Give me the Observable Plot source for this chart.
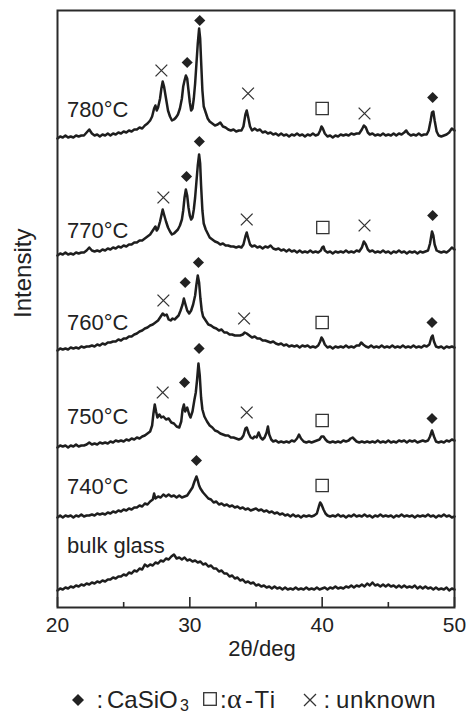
<!DOCTYPE html>
<html>
<head>
<meta charset="utf-8">
<script src="https://cdn.jsdelivr.net/npm/d3@7"></script>
<script src="https://cdn.jsdelivr.net/npm/@observablehq/plot@0.6"></script>
<style>
  html, body { margin: 0; padding: 0; background: #fff; }
  #chart svg { display: block; }
  #legend { position: relative; width: 467px; height: 48px; font-family: "Liberation Sans", Arial, sans-serif; color: #222; }
  #legend .t { position: absolute; font-size: 24px; line-height: 24px; white-space: nowrap; }
  #legend svg { position: absolute; }
</style>
</head>
<body>
<div id="chart"></div>
<div id="legend">
  <svg style="left:71.5px;top:26px" width="12" height="12"><path d="M6,0L12,6L6,12L0,6Z" fill="#222"/></svg>
  <span class="t" style="left:96.5px;top:20px">:</span>
  <span class="t" style="left:107px;top:20px">CaSiO</span>
  <span class="t" style="left:180px;top:30px;font-size:16px;line-height:16px">3</span>
  <svg style="left:203px;top:24px" width="14" height="14"><rect x="0.7" y="0.7" width="12.6" height="12.6" fill="none" stroke="#333" stroke-width="1.3"/></svg>
  <span class="t" style="left:220px;top:20px">:</span>
  <span class="t" style="left:227px;top:17px;font-family:'Liberation Serif','Times New Roman',serif;font-size:28px;line-height:28px">α</span>
  <span class="t" style="left:245px;top:20px;letter-spacing:1.5px">-Ti</span>
  <svg style="left:303px;top:25px" width="14" height="14"><path d="M1,1L13,13M1,13L13,1" stroke="#333" stroke-width="1.3"/></svg>
  <span class="t" style="left:323.5px;top:20px">:</span>
  <span class="t" style="left:336px;top:20px;letter-spacing:0.6px">unknown</span>
</div>
<script>
// ---- data (2θ in degrees, intensity in arbitrary units above each trace's baseline) ----
const traceNames = ["bulk glass", "740°C", "750°C", "760°C", "770°C", "780°C"];
const traceOffsets = [17, 90, 160, 257, 352, 469];
const labelLift = [38, 24, 24, 21, 18, 22];

const bulkGlass = [[20,0],[20.2,2],[20.4,1],[20.6,3],[20.8,2],[21,4],[21.2,3],[21.4,5],[21.6,4],[21.8,6],[22,5],[22.2,7],[22.4,6],[22.6,8],[22.8,7],[23,9],[23.2,8],[23.4,10],[23.6,9],[23.8,11],[24,11],[24.2,13],[24.4,12],[24.6,14],[24.8,14],[25,16],[25.2,15],[25.4,18],[25.6,17],[25.8,20],[26,19],[26.2,22],[26.4,21],[26.6,26],[26.8,24],[27,26],[27.2,25],[27.4,28],[27.6,27],[27.8,30],[28,29],[28.2,32],[28.4,31],[28.6,34],[28.8,36],[29,32],[29.2,33],[29.4,31],[29.6,33],[29.8,30],[30,31],[30.2,29],[30.4,30],[30.6,28],[30.8,29],[31,26],[31.2,27],[31.4,24],[31.6,25],[31.8,22],[32,22],[32.2,19],[32.4,20],[32.6,17],[32.8,17],[33,14],[33.2,15],[33.4,12],[33.6,13],[33.8,10],[34,11],[34.2,8],[34.4,9],[34.6,7],[34.8,8],[35,5],[35.2,6],[35.4,4],[35.6,5],[35.8,3],[36,4],[36.2,2],[36.4,4],[36.6,2],[36.8,3],[37,1],[37.2,3],[37.4,1],[37.6,2],[37.8,1],[38,3],[38.2,1],[38.4,2],[38.6,1],[38.8,3],[39,1],[39.2,2],[39.4,1],[39.6,3],[39.8,1],[40,2],[40.2,3],[40.4,1],[40.6,3],[40.8,2],[41,4],[41.2,2],[41.4,3],[41.6,2],[41.8,4],[42,3],[42.2,5],[42.4,3],[42.6,5],[42.8,4],[43,6],[43.2,4],[43.4,7],[43.6,5],[43.8,8],[44,5],[44.2,6],[44.4,4],[44.6,6],[44.8,4],[45,6],[45.2,4],[45.4,5],[45.6,3],[45.8,5],[46,3],[46.2,5],[46.4,3],[46.6,4],[46.8,3],[47,5],[47.2,2],[47.4,4],[47.6,2],[47.8,4],[48,2],[48.2,3],[48.4,1],[48.6,3],[48.8,1],[49,2],[49.2,1],[49.4,3],[49.6,0],[49.8,2],[50,1]];

const t740 = [[20,0],[20.2,2],[20.4,0],[20.6,2],[20.8,1],[21,2],[21.2,0],[21.4,2],[21.6,1],[21.8,3],[22,1],[22.2,2],[22.4,2],[22.6,3],[22.8,2],[23,4],[23.2,3],[23.4,4],[23.6,3],[23.8,5],[24,4],[24.2,6],[24.4,5],[24.6,7],[24.8,6],[25,8],[25.2,7],[25.4,9],[25.6,8],[25.8,10],[26,10],[26.2,12],[26.4,11],[26.6,14],[26.8,13],[27,16],[27.2,18],[27.3,24],[27.4,19],[27.6,21],[27.8,20],[28,23],[28.2,21],[28.4,23],[28.6,21],[28.8,22],[29,20],[29.2,22],[29.4,20],[29.6,21],[29.8,22],[30,26],[30.2,30],[30.35,36],[30.5,41],[30.6,37],[30.7,32],[30.8,29],[31,25],[31.2,22],[31.4,19],[31.6,18],[31.8,15],[32,16],[32.2,13],[32.4,14],[32.6,12],[32.8,13],[33,11],[33.2,12],[33.4,10],[33.6,11],[33.8,9],[34,10],[34.2,8],[34.4,9],[34.6,7],[34.8,8],[35,9],[35.2,7],[35.4,8],[35.6,6],[35.8,7],[36,5],[36.2,6],[36.4,4],[36.6,5],[36.8,3],[37,4],[37.2,2],[37.4,3],[37.6,1],[37.8,3],[38,1],[38.2,2],[38.4,0],[38.6,2],[38.8,1],[39,2],[39.2,1],[39.4,2],[39.6,4],[39.75,11],[39.85,15],[39.95,13],[40.1,8],[40.25,4],[40.4,2],[40.6,1],[40.8,2],[41,1],[41.2,3],[41.4,1],[41.6,2],[41.8,0],[42,2],[42.2,1],[42.4,3],[42.6,1],[42.8,2],[43,1],[43.2,3],[43.4,1],[43.6,2],[43.8,0],[44,2],[44.2,1],[44.4,3],[44.6,1],[44.8,2],[45,1],[45.2,2],[45.4,0],[45.6,2],[45.8,1],[46,3],[46.2,1],[46.4,2],[46.6,1],[46.8,2],[47,0],[47.2,2],[47.4,1],[47.6,2],[47.8,1],[48,3],[48.2,1],[48.4,2],[48.6,0],[48.8,2],[49,1],[49.2,3],[49.4,1],[49.6,2],[49.8,0],[50,1]];

const t750 = [[20,0],[20.2,2],[20.4,1],[20.6,2],[20.8,0],[21,2],[21.2,1],[21.4,3],[21.6,1],[21.8,2],[22,2],[22.2,3],[22.4,5],[22.6,3],[22.8,4],[23,3],[23.2,5],[23.4,4],[23.6,5],[23.8,4],[24,6],[24.2,5],[24.4,7],[24.6,6],[24.8,7],[25,6],[25.2,8],[25.4,7],[25.6,9],[25.8,8],[26,10],[26.2,9],[26.4,11],[26.6,12],[26.8,14],[27,16],[27.15,22],[27.25,34],[27.35,43],[27.45,36],[27.55,30],[27.7,33],[27.85,30],[28,31],[28.2,28],[28.4,29],[28.6,25],[28.8,24],[29,21],[29.2,20],[29.35,26],[29.45,38],[29.55,43],[29.65,36],[29.8,40],[29.95,33],[30.05,30],[30.2,36],[30.35,48],[30.45,55],[30.55,68],[30.65,84],[30.75,72],[30.85,50],[30.95,38],[31.1,31],[31.3,26],[31.5,22],[31.7,20],[31.9,17],[32.1,16],[32.3,14],[32.5,13],[32.7,12],[32.9,12],[33.1,10],[33.3,10],[33.5,9],[33.7,8],[33.9,9],[34.05,12],[34.2,19],[34.3,20],[34.45,14],[34.6,10],[34.75,9],[34.9,11],[35.05,10],[35.2,15],[35.35,10],[35.5,8],[35.65,10],[35.8,15],[35.9,21],[36,13],[36.15,8],[36.3,6],[36.5,7],[36.7,5],[36.9,6],[37.1,5],[37.3,6],[37.5,5],[37.7,7],[37.9,6],[38.1,9],[38.25,13],[38.4,9],[38.6,6],[38.8,5],[39,6],[39.2,5],[39.4,6],[39.6,7],[39.8,8],[39.95,11],[40.1,11],[40.25,8],[40.4,6],[40.6,5],[40.8,6],[41,5],[41.2,6],[41.4,5],[41.6,7],[41.8,6],[42,7],[42.15,9],[42.3,10],[42.45,8],[42.6,6],[42.8,5],[43,6],[43.2,5],[43.4,6],[43.6,5],[43.8,6],[44,5],[44.2,7],[44.4,5],[44.6,6],[44.8,5],[45,7],[45.2,5],[45.4,6],[45.6,5],[45.8,7],[46,6],[46.2,7],[46.4,5],[46.6,7],[46.8,6],[47,7],[47.2,5],[47.4,6],[47.6,7],[47.8,6],[48,7],[48.15,11],[48.3,17],[48.45,11],[48.6,6],[48.8,5],[49,6],[49.2,5],[49.4,7],[49.6,6],[49.8,8],[50,7]];

const t760 = [[20,0],[20.2,2],[20.4,1],[20.6,2],[20.8,1],[21,3],[21.2,2],[21.4,3],[21.6,2],[21.8,4],[22,3],[22.2,4],[22.4,4],[22.6,5],[22.8,4],[23,6],[23.2,5],[23.4,7],[23.6,6],[23.8,8],[24,8],[24.2,9],[24.4,9],[24.6,11],[24.8,10],[25,12],[25.2,12],[25.4,14],[25.6,14],[25.8,16],[26,17],[26.2,19],[26.4,20],[26.6,22],[26.8,23],[27,25],[27.2,26],[27.4,28],[27.6,30],[27.8,34],[27.95,37],[28.1,35],[28.25,36],[28.4,31],[28.55,30],[28.7,32],[28.85,31],[29,33],[29.15,35],[29.3,40],[29.45,46],[29.55,52],[29.65,47],[29.8,40],[29.95,37],[30.1,40],[30.25,46],[30.4,55],[30.5,66],[30.6,75],[30.7,68],[30.8,52],[30.9,40],[31,34],[31.2,30],[31.4,26],[31.6,25],[31.8,23],[32,22],[32.2,20],[32.4,21],[32.6,18],[32.8,18],[33,16],[33.2,16],[33.4,15],[33.6,15],[33.8,15],[34,16],[34.15,18],[34.3,17],[34.5,15],[34.7,13],[34.9,14],[35.1,12],[35.3,12],[35.5,10],[35.7,10],[35.9,9],[36.1,8],[36.3,9],[36.5,7],[36.7,6],[36.9,7],[37.1,5],[37.3,6],[37.5,4],[37.7,5],[37.9,4],[38.1,5],[38.3,3],[38.5,5],[38.7,4],[38.9,5],[39.1,3],[39.3,4],[39.5,3],[39.7,5],[39.85,9],[39.95,13],[40.05,11],[40.2,6],[40.4,3],[40.6,4],[40.8,2],[41,4],[41.2,3],[41.4,4],[41.6,3],[41.8,5],[42,3],[42.2,4],[42.4,3],[42.6,5],[42.8,5],[42.95,8],[43.1,6],[43.3,4],[43.5,3],[43.7,5],[43.9,3],[44.1,4],[44.3,3],[44.5,5],[44.7,3],[44.9,4],[45.1,3],[45.3,5],[45.5,3],[45.7,4],[45.9,3],[46.1,5],[46.3,3],[46.5,4],[46.7,3],[46.9,5],[47.1,3],[47.3,4],[47.5,3],[47.7,5],[47.9,4],[48.1,6],[48.25,13],[48.35,15],[48.45,9],[48.6,4],[48.8,3],[49,4],[49.2,2],[49.4,4],[49.6,3],[49.8,4],[50,3]];

const t770 = [[20,0],[20.2,2],[20.4,1],[20.6,3],[20.8,1],[21,2],[21.2,1],[21.4,3],[21.6,2],[21.8,3],[22,3],[22.2,5],[22.4,8],[22.6,5],[22.8,4],[23,5],[23.2,4],[23.4,6],[23.6,5],[23.8,7],[24,6],[24.2,8],[24.4,7],[24.6,9],[24.8,8],[25,10],[25.2,9],[25.4,11],[25.6,11],[25.8,13],[26,13],[26.2,15],[26.4,15],[26.6,17],[26.8,19],[27,21],[27.15,24],[27.3,27],[27.4,29],[27.5,25],[27.6,27],[27.75,34],[27.85,40],[27.95,46],[28.05,41],[28.2,34],[28.35,28],[28.5,24],[28.65,21],[28.8,22],[28.95,24],[29.1,26],[29.25,30],[29.4,36],[29.5,45],[29.6,58],[29.7,66],[29.8,60],[29.9,48],[30,40],[30.1,36],[30.2,38],[30.3,46],[30.4,58],[30.5,74],[30.6,90],[30.7,101],[30.78,92],[30.85,70],[30.95,45],[31.05,32],[31.2,26],[31.35,22],[31.5,18],[31.7,16],[31.9,14],[32.1,13],[32.3,11],[32.5,12],[32.7,10],[32.9,10],[33.1,9],[33.3,9],[33.5,8],[33.7,9],[33.9,8],[34.05,11],[34.2,19],[34.3,23],[34.4,18],[34.55,11],[34.7,9],[34.9,10],[35.1,8],[35.3,9],[35.5,7],[35.7,9],[35.9,8],[36.1,10],[36.3,7],[36.5,6],[36.7,7],[36.9,5],[37.1,6],[37.3,4],[37.5,6],[37.7,4],[37.9,5],[38.1,3],[38.3,5],[38.5,3],[38.7,4],[38.9,3],[39.1,5],[39.3,3],[39.5,4],[39.7,3],[39.9,5],[40,8],[40.1,9],[40.2,5],[40.4,3],[40.6,4],[40.8,2],[41,4],[41.2,3],[41.4,4],[41.6,3],[41.8,5],[42,3],[42.2,4],[42.4,3],[42.6,5],[42.8,4],[43,8],[43.15,14],[43.3,11],[43.45,6],[43.6,4],[43.8,5],[44,3],[44.2,4],[44.4,3],[44.6,5],[44.8,3],[45,4],[45.2,2],[45.4,4],[45.6,3],[45.8,5],[46,3],[46.2,4],[46.4,2],[46.6,4],[46.8,3],[47,4],[47.2,2],[47.4,4],[47.6,3],[47.8,4],[48,5],[48.15,12],[48.3,24],[48.4,20],[48.5,11],[48.65,5],[48.8,4],[49,3],[49.2,4],[49.4,3],[49.6,5],[49.8,8],[50,6]];

const t780 = [[20,0],[20.2,2],[20.4,1],[20.6,3],[20.8,1],[21,2],[21.2,1],[21.4,3],[21.6,2],[21.8,3],[22,3],[22.2,6],[22.4,9],[22.6,5],[22.8,3],[23,4],[23.2,2],[23.4,4],[23.6,3],[23.8,5],[24,3],[24.2,5],[24.4,4],[24.6,6],[24.8,5],[25,7],[25.2,6],[25.4,8],[25.6,7],[25.8,9],[26,9],[26.2,11],[26.4,10],[26.6,13],[26.8,15],[27,18],[27.15,22],[27.3,30],[27.4,33],[27.5,28],[27.6,31],[27.75,40],[27.85,50],[27.95,57],[28.05,52],[28.2,40],[28.35,28],[28.5,22],[28.65,18],[28.8,19],[28.95,21],[29.1,24],[29.25,30],[29.4,40],[29.5,52],[29.6,58],[29.7,63],[29.8,60],[29.9,48],[30,36],[30.1,28],[30.2,30],[30.3,40],[30.4,55],[30.5,75],[30.6,95],[30.7,110],[30.78,100],[30.85,78],[30.95,48],[31.05,32],[31.2,26],[31.35,20],[31.5,17],[31.7,15],[31.9,13],[32.1,14],[32.3,16],[32.5,12],[32.7,11],[32.9,9],[33.1,8],[33.3,9],[33.5,7],[33.7,8],[33.9,8],[34.05,12],[34.2,24],[34.3,28],[34.4,22],[34.55,12],[34.7,8],[34.9,10],[35.1,8],[35.3,9],[35.5,6],[35.7,7],[35.9,5],[36.1,6],[36.3,4],[36.5,5],[36.7,3],[36.9,5],[37.1,3],[37.3,4],[37.5,2],[37.7,4],[37.9,3],[38.1,5],[38.3,3],[38.5,4],[38.7,2],[38.9,4],[39.1,3],[39.3,5],[39.5,3],[39.7,4],[39.85,8],[39.95,12],[40.05,10],[40.2,5],[40.4,2],[40.6,3],[40.8,1],[41,3],[41.2,2],[41.4,4],[41.6,3],[41.8,4],[42,3],[42.2,5],[42.4,4],[42.6,5],[42.8,5],[43,9],[43.15,13],[43.3,11],[43.45,6],[43.6,4],[43.8,5],[44,3],[44.2,4],[44.4,3],[44.6,5],[44.8,3],[45,4],[45.2,3],[45.4,5],[45.6,3],[45.8,5],[46,4],[46.2,6],[46.35,8],[46.5,5],[46.7,3],[46.9,4],[47.1,3],[47.3,5],[47.5,3],[47.7,4],[47.9,4],[48.05,8],[48.2,18],[48.3,26],[48.4,27],[48.5,18],[48.65,7],[48.8,3],[49,2],[49.2,3],[49.4,4],[49.6,6],[49.8,10],[50,8]];

// phase markers: trace, phase, 2θ, height above trace baseline
const markerTrace  = ["740°C","740°C",
  "750°C","750°C","750°C","750°C","750°C","750°C",
  "760°C","760°C","760°C","760°C","760°C","760°C",
  "770°C","770°C","770°C","770°C","770°C","770°C","770°C",
  "780°C","780°C","780°C","780°C","780°C","780°C","780°C"];
const markerPhase  = ["CaSiO3","α-Ti",
  "unknown","CaSiO3","CaSiO3","unknown","α-Ti","CaSiO3",
  "unknown","CaSiO3","CaSiO3","unknown","α-Ti","CaSiO3",
  "unknown","CaSiO3","CaSiO3","unknown","α-Ti","unknown","CaSiO3",
  "unknown","CaSiO3","CaSiO3","unknown","α-Ti","unknown","CaSiO3"];
const markerAngle  = [30.5,40.0,
  27.95,29.6,30.7,34.3,40.0,48.3,
  28.0,29.65,30.65,34.1,40.0,48.3,
  28.0,29.75,30.72,34.3,40.05,43.2,48.35,
  27.85,29.8,30.75,34.4,40.0,43.2,48.35];
const markerHeight = [57,32,
  55,65,99,35,27,29,
  50,68,88,32,28,28,
  58,79,114,36,28,30,40,
  68,76,118,45,30,25,41];

const majorTicks = [20, 30, 40, 50];
const minorTicks = [25, 35, 45];

// ---- build tables ----
const traceData = [bulkGlass, t740, t750, t760, t770, t780];
const rows = traceData.flatMap((pts, i) =>
  pts.map(([a, v]) => ({trace: traceNames[i], angle: a, value: v + traceOffsets[i]})));
const labels = traceNames.map((n, i) => ({trace: n, angle: 20.72, value: traceOffsets[i] + labelLift[i]}));
const markers = markerTrace.map((t, i) => ({
  trace: t, phase: markerPhase[i], angle: markerAngle[i],
  value: traceOffsets[traceNames.indexOf(t)] + markerHeight[i]
}));

const font = "Liberation Sans, Arial, sans-serif";
const chart = Plot.plot({
  width: 467,
  height: 668,
  marginLeft: 57,
  marginRight: 13,
  marginTop: 10,
  marginBottom: 61,
  style: {fontFamily: font, background: "#fff", color: "#222"},
  x: {domain: [20, 50]},
  y: {domain: [0, 597], axis: null},
  marks: [
    Plot.line(rows, {x: "angle", y: "value", z: "trace", stroke: "#1e1e1e", strokeWidth: 2.5, strokeLinejoin: "round"}),
    Plot.frame({stroke: "#2a2a2a", strokeWidth: 2}),
    Plot.axisX(majorTicks, {tickSize: -10, tickPadding: 20, fontSize: 21, label: null, strokeWidth: 1.6, stroke: "#2a2a2a"}),
    Plot.axisX(minorTicks, {tickSize: -5, tickFormat: () => "", label: null, strokeWidth: 1.6, stroke: "#2a2a2a"}),
    Plot.text(labels, {x: "angle", y: "value", text: "trace", textAnchor: "start", lineAnchor: "bottom", fontSize: 22, fill: "#222"}),
    Plot.dot(markers.filter(d => d.phase === "CaSiO3"), {x: "angle", y: "value", symbol: "diamond2", r: 5, fill: "#222", stroke: "none"}),
    Plot.dot(markers.filter(d => d.phase === "α-Ti"), {x: "angle", y: "value", symbol: "square2", r: 7.8, fill: "none", stroke: "#333", strokeWidth: 1.3}),
    Plot.dot(markers.filter(d => d.phase === "unknown"), {x: "angle", y: "value", symbol: "times", r: 5.4, fill: "none", stroke: "#333", strokeWidth: 1.3}),
    Plot.text(["2θ/deg"], {frameAnchor: "bottom", dy: 33, dx: 6, lineAnchor: "top", fontSize: 22, fill: "#222"}),
    Plot.text(["Intensity"], {frameAnchor: "left", rotate: -90, dx: -34, dy: 9, fontSize: 24, fill: "#222"})
  ]
});
document.getElementById("chart").append(chart);
</script>
</body>
</html>
